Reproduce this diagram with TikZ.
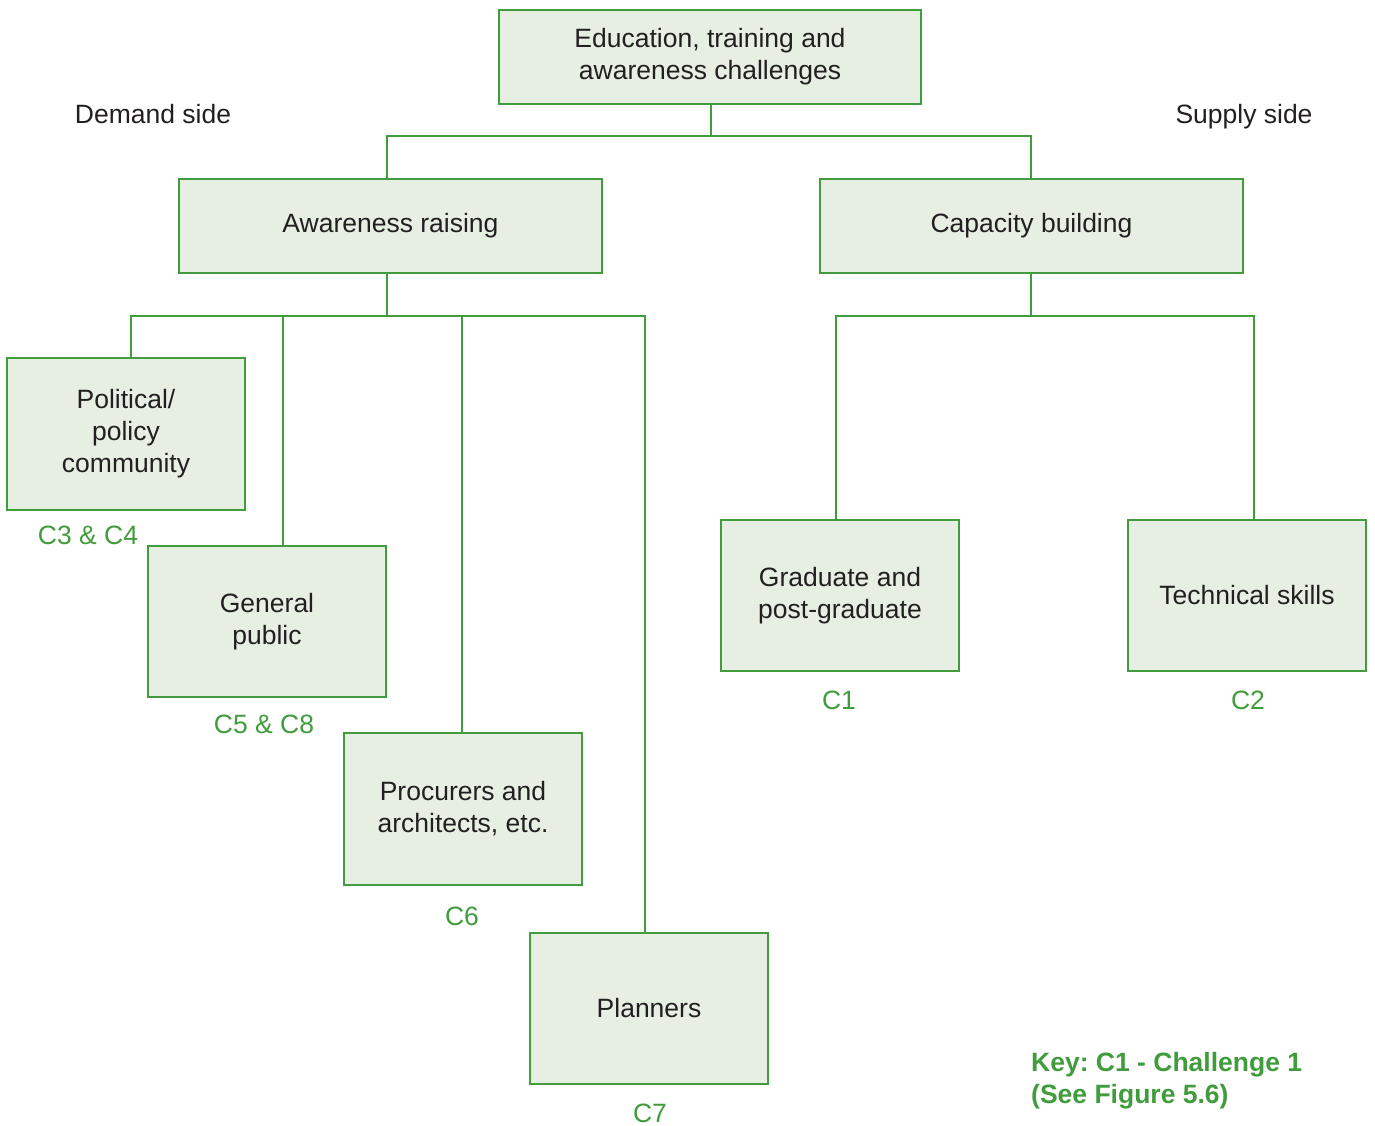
\documentclass[tikz,border=0pt]{standalone}
\usepackage{fontspec}
\setmainfont{Liberation Sans}
\definecolor{gline}{HTML}{409C3C}
\definecolor{gfill}{HTML}{E7EFE3}
\definecolor{tx}{HTML}{231F20}
\frenchspacing
\begin{document}
\begin{tikzpicture}[x=1pt,y=-1pt,
  box/.style={draw=gline,fill=gfill,line width=2.8pt,inner sep=0pt,align=center,text=tx,
    font=\fontsize{26.5}{32}\selectfont},
  conn/.style={draw=gline,line width=2.8pt},
  lab/.style={text=tx,inner sep=0pt,anchor=base,font=\fontsize{26.5}{32}\selectfont},
  clab/.style={text=gline,inner sep=0pt,anchor=base,font=\fontsize{26.5}{32}\selectfont},
]
\useasboundingbox (0,0) rectangle (1375,1126);
\node[box,minimum width=422pt,minimum height=94pt] (top) at (710,57) {Education, training and\\awareness challenges};
\node[box,minimum width=423pt,minimum height=94pt] (aw) at (390.5,226) {Awareness raising};
\node[box,minimum width=423pt,minimum height=94pt] (cap) at (1031.5,226) {Capacity building};
\node[box,minimum width=238pt,minimum height=152pt] (pol) at (126,434) {Political/\\policy\\community};
\node[box,minimum width=238pt,minimum height=151pt] (gen) at (267,621.5) {General\\public};
\node[box,minimum width=238pt,minimum height=152pt] (pro) at (463,809) {Procurers and\\architects, etc.};
\node[box,minimum width=238pt,minimum height=151pt] (pla) at (649,1008.5) {Planners};
\node[box,minimum width=238pt,minimum height=151pt] (gra) at (840,595.5) {Graduate and\\post-graduate};
\node[box,minimum width=238pt,minimum height=151pt] (tec) at (1247,595.5) {Technical skills};

\coordinate (j0) at (711,136);
\coordinate (j1) at (387,316);
\coordinate (j2) at (1031,316);

\draw[conn] ([xshift=1pt]top.south) -- (j0);
\draw[conn] ([xshift=-3.5pt]aw.north) |- (j0) -| ([xshift=-0.5pt]cap.north);
\draw[conn] ([xshift=-3.5pt]aw.south) -- (j1);
\draw[conn] ([xshift=5pt]pol.north) |- ([xshift=258pt]j1) -- ([xshift=-4pt]pla.north);
\draw[conn] ([xshift=16pt]gen.north) -- ([xshift=16pt]gen.north |- j1);
\draw[conn] ([xshift=-1pt]pro.north) -- ([xshift=-1pt]pro.north |- j1);
\draw[conn] ([xshift=-0.5pt]cap.south) -- (j2);
\draw[conn] ([xshift=-4pt]gra.north) |- (j2) -| ([xshift=7pt]tec.north);

\node[lab] (dem) at (153,124) {Demand side};
\node[lab] (sup) at (1244,124) {Supply side};
\node[clab] (c34) at (88,544) {C3 \& C4};
\node[clab] (c58) at (264,733) {C5 \& C8};
\node[clab] (c6) at (462,925) {C6};
\node[clab] (c7) at (650,1122) {C7};
\node[clab] (c1) at (839,709) {C1};
\node[clab] (c2) at (1248,709) {C2};
\node[clab,anchor=base west,align=left,font=\fontsize{26.5}{32}\selectfont\bfseries] (key) at (1031,1103) {Key: C1 - Challenge 1\\(See Figure 5.6)};
\end{tikzpicture}
\end{document}
